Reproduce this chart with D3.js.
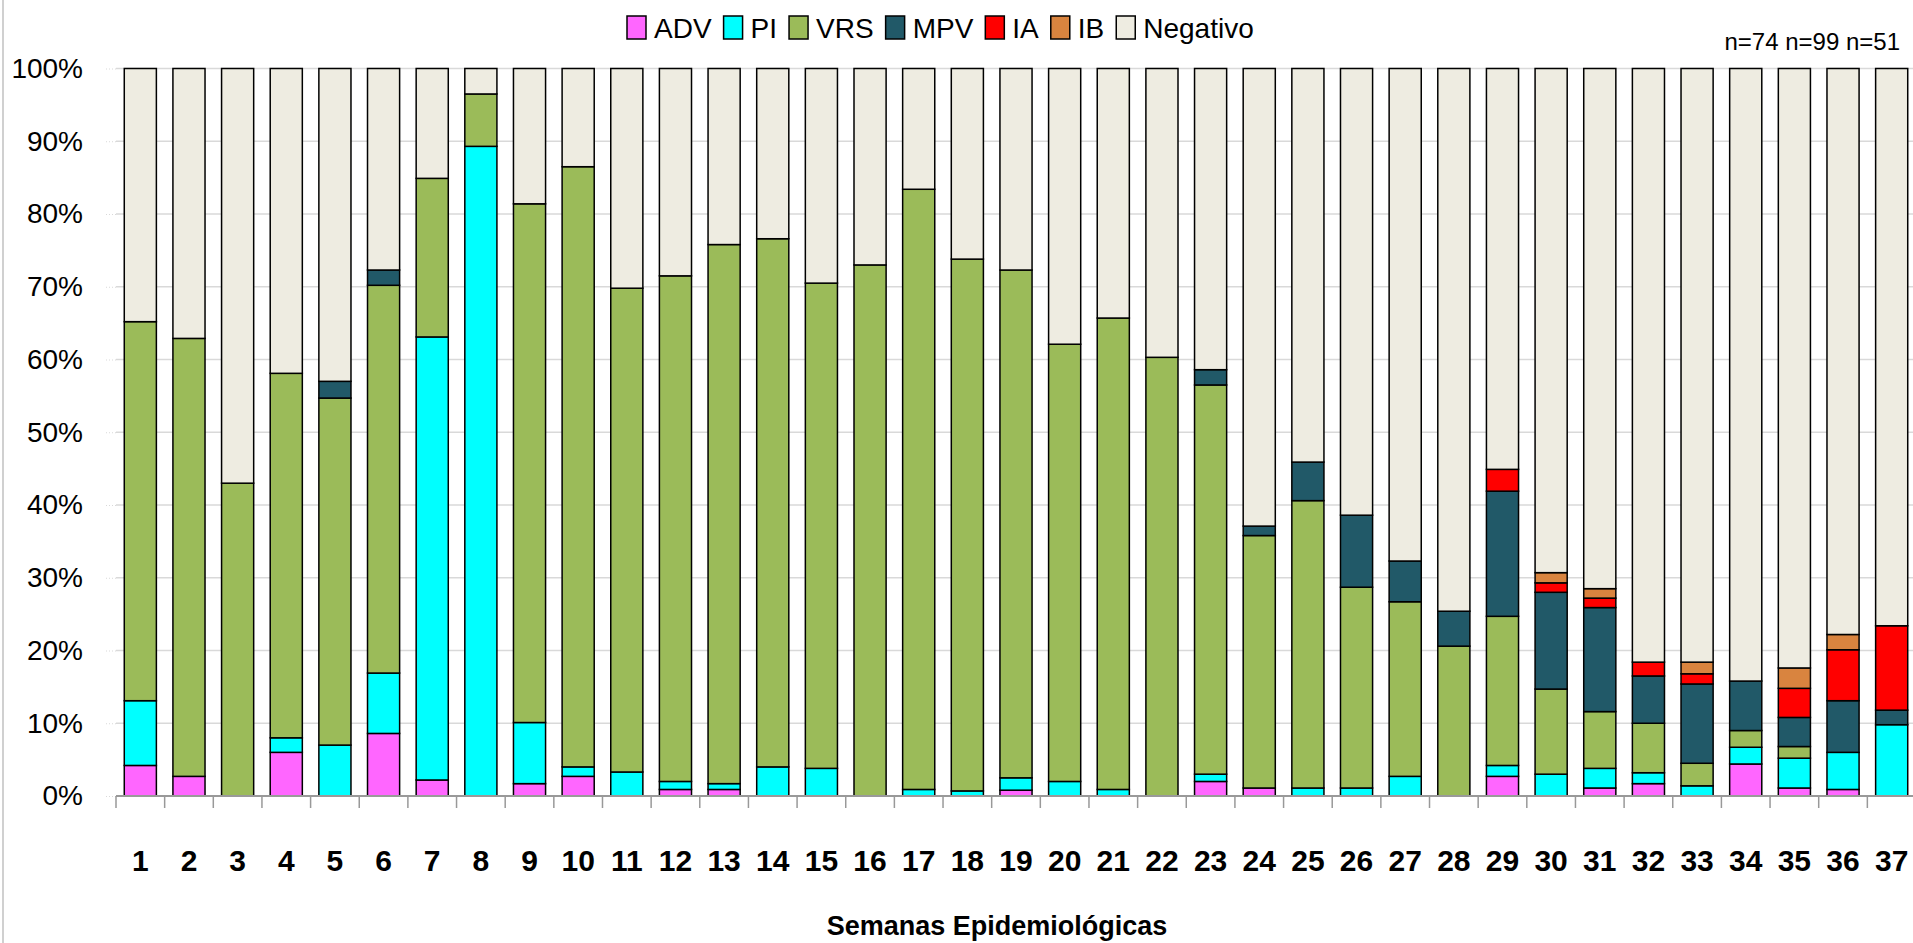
<!DOCTYPE html>
<html>
<head>
<meta charset="utf-8">
<script src="https://cdn.jsdelivr.net/npm/d3@7"></script>
<style>
  html, body { margin: 0; padding: 0; background: #fff; }
  svg { display: block; font-family: "Liberation Sans", Arial, sans-serif; }
</style>
</head>
<body>
<div id="chart"></div>
<script>
// semanas epidemiologicas 1..37, valores en %
const weeks = d3.range(1, 38)
const seriesNames = ['ADV', 'PI', 'VRS', 'MPV', 'IA', 'IB', 'Negativo']
const seriesColors = ['#ff66ff', '#00ffff', '#9bbb59', '#215968', '#ff0000', '#d9843f', '#eeece1']

const ADV = [4.2, 2.7, 0, 6.0, 0, 8.6, 2.2, 0, 1.7, 2.7, 0, 0.9, 0.9, 0, 0, 0, 0, 0, 0.8, 0, 0, 0, 2.0, 1.1, 0, 0, 0, 0, 2.7, 0, 1.1, 1.7, 0, 4.4, 1.1, 0.9, 0]
const PI = [8.9, 0, 0, 2.0, 7.0, 8.3, 60.9, 89.3, 8.4, 1.3, 3.3, 1.1, 0.8, 4.0, 3.8, 0, 0.9, 0.7, 1.7, 2.0, 0.9, 0, 1.0, 0, 1.1, 1.1, 2.7, 0, 1.5, 3.0, 2.7, 1.5, 1.4, 2.3, 4.1, 5.1, 9.8]
const VRS = [52.1, 60.2, 43.0, 50.1, 47.7, 53.3, 21.8, 7.2, 71.3, 82.5, 66.5, 69.5, 74.1, 72.6, 66.7, 73.0, 82.5, 73.1, 69.8, 60.1, 64.8, 60.3, 53.5, 34.7, 39.5, 27.6, 24.0, 20.6, 20.5, 11.7, 7.8, 6.8, 3.1, 2.3, 1.6, 0, 0]
const MPV = [0, 0, 0, 0, 2.3, 2.1, 0, 0, 0, 0, 0, 0, 0, 0, 0, 0, 0, 0, 0, 0, 0, 0, 2.1, 1.3, 5.3, 9.9, 5.6, 4.8, 17.2, 13.3, 14.3, 6.5, 10.9, 6.8, 4.0, 7.1, 2.0]
const IA = [0, 0, 0, 0, 0, 0, 0, 0, 0, 0, 0, 0, 0, 0, 0, 0, 0, 0, 0, 0, 0, 0, 0, 0, 0, 0, 0, 0, 3.0, 1.3, 1.3, 1.9, 1.4, 0, 4.0, 7.0, 11.6]
const IB = [0, 0, 0, 0, 0, 0, 0, 0, 0, 0, 0, 0, 0, 0, 0, 0, 0, 0, 0, 0, 0, 0, 0, 0, 0, 0, 0, 0, 0, 1.4, 1.3, 0, 1.6, 0, 2.8, 2.1, 0]
const Negativo = [34.8, 37.1, 57.0, 41.9, 43.0, 27.7, 15.1, 3.5, 18.6, 13.5, 30.2, 28.5, 24.2, 23.4, 29.5, 27.0, 16.6, 26.2, 27.7, 37.9, 34.3, 39.7, 41.4, 62.9, 54.1, 61.4, 67.7, 74.6, 55.1, 69.3, 71.5, 81.6, 81.6, 84.2, 82.4, 77.8, 76.6]

const yTicks = d3.range(0, 101, 10)
const nLabels = ['n=74', 'n=99', 'n=51']
const xTitle = 'Semanas Epidemiológicas'

const W = 1913, H = 943
const svg = d3.select('#chart').append('svg').attr('width', W).attr('height', H)

const values = { ADV, PI, VRS, MPV, IA, IB, Negativo }
const table = weeks.map((w, i) => {
  const row = { week: w }
  seriesNames.forEach(s => { row[s] = values[s][i] })
  return row
})
const color = d3.scaleOrdinal().domain(seriesNames).range(seriesColors)

const x = d3.scaleBand()
  .domain(weeks)
  .range([116, 1916])
  .paddingInner(0.34)
  .paddingOuter(0.17)
const y = d3.scaleLinear().domain([0, 100]).range([796, 68.5])

// borde izquierdo del area del grafico
svg.append('line')
  .attr('x1', 3).attr('x2', 3).attr('y1', 0).attr('y2', H)
  .attr('stroke', '#c0c0c0').attr('stroke-width', 1.5)

// lineas de cuadricula
svg.append('g')
  .selectAll('line')
  .data(yTicks.filter(d => d > 0))
  .join('line')
  .attr('x1', 116).attr('x2', W)
  .attr('y1', d => y(d)).attr('y2', d => y(d))
  .attr('stroke', '#d9d9d9').attr('stroke-width', 1.5)

// eje y
const yAxis = svg.append('g')
  .attr('transform', 'translate(116,0)')
  .call(d3.axisLeft(y).tickValues(yTicks).tickFormat(d => d + '%').tickSize(11).tickPadding(22))
yAxis.select('.domain').remove()
yAxis.selectAll('.tick line')
  .attr('stroke', '#d9d9d9').attr('stroke-dasharray', '1,2')
yAxis.selectAll('.tick text')
  .attr('font-size', 28).attr('fill', '#000')
  .attr('font-family', '"Liberation Sans", Arial, sans-serif')

// barras apiladas
const stacked = d3.stack().keys(seriesNames)(table)
svg.append('g')
  .selectAll('g')
  .data(stacked)
  .join('g')
  .attr('fill', d => color(d.key))
  .selectAll('rect')
  .data(d => d.filter(p => p[1] - p[0] > 0))
  .join('rect')
  .attr('x', d => x(d.data.week))
  .attr('width', x.bandwidth())
  .attr('y', d => y(d[1]))
  .attr('height', d => y(d[0]) - y(d[1]))
  .attr('stroke', '#000')
  .attr('stroke-width', 1.5)

// eje x
const bounds = weeks.map(w => x(w) - (x.step() - x.bandwidth()) / 2)
bounds.push(bounds[bounds.length - 1] + x.step())
const xg = svg.append('g')
xg.append('line')
  .attr('x1', 116).attr('x2', W)
  .attr('y1', y(0)).attr('y2', y(0))
  .attr('stroke', '#999').attr('stroke-width', 2)
xg.selectAll('line.tk')
  .data(bounds)
  .join('line')
  .attr('class', 'tk')
  .attr('x1', d => d).attr('x2', d => d)
  .attr('y1', y(0)).attr('y2', y(0) + 12)
  .attr('stroke', '#999').attr('stroke-width', 1.5)
xg.selectAll('text')
  .data(weeks)
  .join('text')
  .attr('x', d => x(d) + x.bandwidth() / 2)
  .attr('y', 871)
  .attr('text-anchor', 'middle')
  .attr('font-size', 30)
  .attr('font-weight', 'bold')
  .text(d => d)

svg.append('text')
  .attr('x', 997).attr('y', 935)
  .attr('text-anchor', 'middle')
  .attr('font-size', 27)
  .attr('font-weight', 'bold')
  .text(xTitle)

// n de las ultimas semanas
svg.append('text')
  .attr('x', 1900).attr('y', 50)
  .attr('text-anchor', 'end')
  .attr('font-size', 24)
  .text(nLabels.join(' '))

// leyenda
const legend = svg.append('g')
let lx = 627
seriesNames.forEach(name => {
  const item = legend.append('g')
  item.append('rect')
    .attr('x', lx).attr('y', 16)
    .attr('width', 19).attr('height', 23)
    .attr('fill', color(name))
    .attr('stroke', '#000').attr('stroke-width', 1.5)
  const t = item.append('text')
    .attr('x', lx + 27).attr('y', 38)
    .attr('font-size', 28)
    .text(name)
  lx += 27 + t.node().getComputedTextLength() + 12
})
</script>
</body>
</html>
